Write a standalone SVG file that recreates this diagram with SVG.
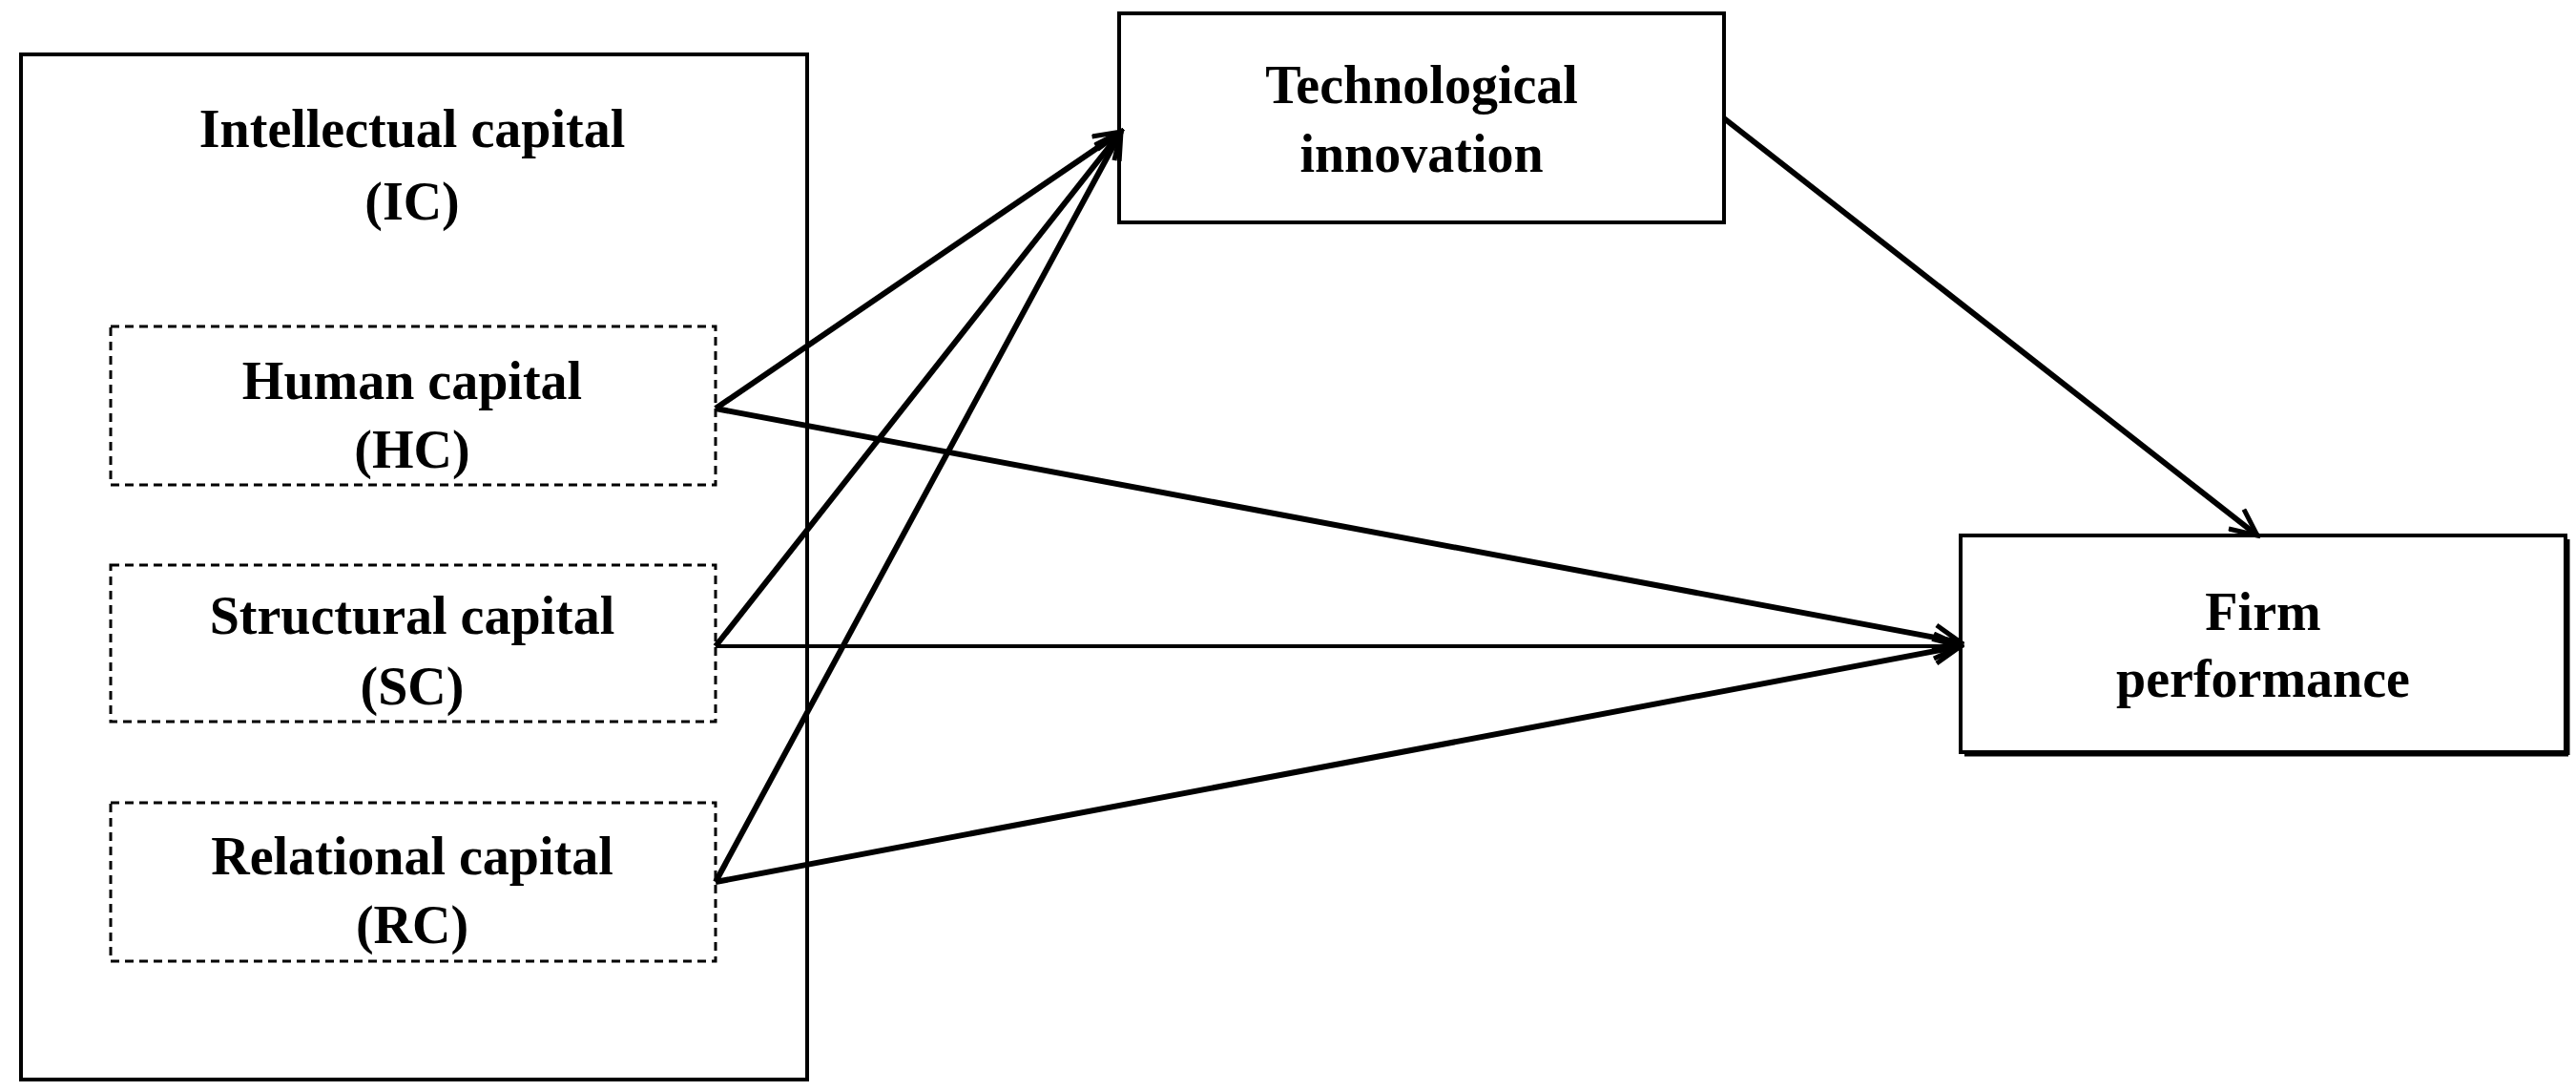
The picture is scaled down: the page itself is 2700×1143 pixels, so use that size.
<svg xmlns="http://www.w3.org/2000/svg" width="2700" height="1143" viewBox="0 0 2700 1143">
<style>
.t{font-family:"Liberation Serif",serif;font-weight:bold;font-size:56px;text-anchor:middle;fill:#000}
.box{fill:#fff;stroke:#000;stroke-width:4}
.dash{fill:none;stroke:#000;stroke-width:3;stroke-dasharray:9 6}
</style>
<defs>
<marker id="b" markerWidth="34" markerHeight="30" refX="30" refY="15" orient="auto" markerUnits="userSpaceOnUse"><path d="M2,2 L30,15 L2,28" fill="none" stroke="#000" stroke-width="5"/></marker></defs>
<rect width="2700" height="1143" fill="#fff"/>
<g id="ic"><rect class="box" x="22" y="57" width="824" height="1074"/>
<text class="t" x="432" y="154">Intellectual capital</text><text class="t" x="432" y="230">(IC)</text></g>
<g id="hc"><rect class="dash" x="116" y="342" width="634" height="166"/><text class="t" x="432" y="418">Human capital</text><text class="t" x="432" y="490">(HC)</text></g>
<g id="sc"><rect class="dash" x="116" y="592" width="634" height="164"/><text class="t" x="432" y="664">Structural capital</text><text class="t" x="432" y="738">(SC)</text></g>
<g id="rc"><rect class="dash" x="116" y="841" width="634" height="166"/><text class="t" x="432" y="916">Relational capital</text><text class="t" x="432" y="988">(RC)</text></g>
<g id="ti"><rect class="box" x="1173" y="14" width="634" height="219"/><text class="t" x="1490" y="108">Technological</text><text class="t" x="1490" y="180">innovation</text></g>
<g id="fp"><rect class="box" x="2055" y="561" width="634" height="227"/><line x1="2059" y1="791" x2="2692" y2="791" stroke="#000" stroke-width="3"/><line x1="2692" y1="565" x2="2692" y2="791" stroke="#000" stroke-width="3"/><text class="t" x="2372" y="660">Firm</text><text class="t" x="2372" y="730">performance</text></g>
<g id="connectors" stroke="#000" stroke-width="6" fill="none" marker-end="url(#b)">
<line x1="750" y1="428" x2="1175" y2="138"/>
<line x1="750" y1="428" x2="2055" y2="673"/>
<line x1="750" y1="677" x2="1175" y2="138"/>
<line x1="750" y1="677" x2="2055" y2="677" stroke-width="4"/>
<line x1="750" y1="924" x2="1175" y2="138"/>
<line x1="750" y1="924" x2="2055" y2="677"/>
<line x1="1807" y1="124" x2="2366" y2="561"/>
</g>
</svg>
